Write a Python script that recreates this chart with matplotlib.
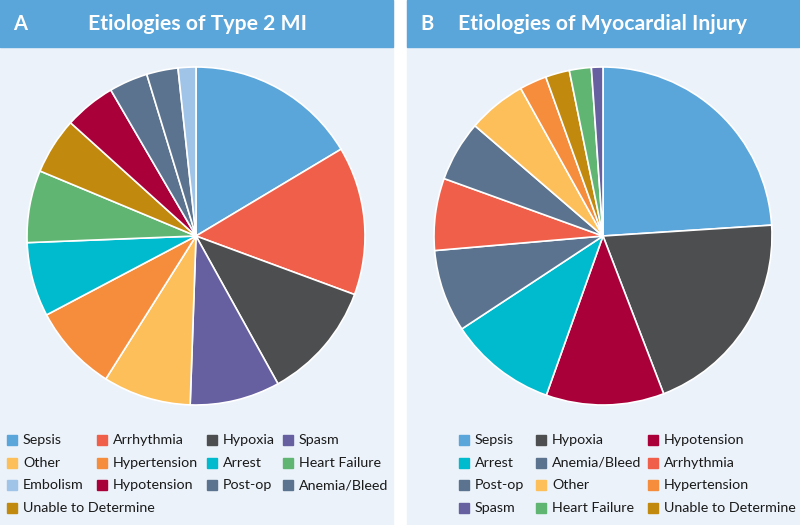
import matplotlib.pyplot as plt
from matplotlib.patches import Rectangle

plt.rcParams['font.family'] = ['Lato', 'DejaVu Sans']

# Panel A: Etiologies of Type 2 MI (percent, clockwise from 12 o'clock)
labels_a = ['Sepsis', 'Arrhythmia', 'Hypoxia', 'Spasm', 'Other', 'Hypertension',
            'Arrest', 'Heart Failure', 'Unable to Determine', 'Hypotension',
            'Post-op', 'Anemia/Bleed', 'Embolism']
values_a = [16.4, 14.2, 11.3, 8.6, 8.4, 8.3, 7.1, 6.9, 5.4, 4.9, 3.7, 3.0, 1.7]
legend_a = ['Sepsis', 'Arrhythmia', 'Hypoxia', 'Spasm',
            'Other', 'Hypertension', 'Arrest', 'Heart Failure',
            'Embolism', 'Hypotension', 'Post-op', 'Anemia/Bleed',
            'Unable to Determine']

# Panel B: Etiologies of Myocardial Injury
labels_b = ['Sepsis', 'Hypoxia', 'Hypotension', 'Arrest', 'Anemia/Bleed',
            'Arrhythmia', 'Post-op', 'Other', 'Hypertension',
            'Unable to Determine', 'Heart Failure', 'Spasm']
values_b = [24.0, 20.2, 11.3, 10.3, 7.9, 6.9, 5.8, 5.6, 2.6, 2.3, 2.1, 1.1]
legend_b = ['Sepsis', 'Hypoxia', 'Hypotension',
            'Arrest', 'Anemia/Bleed', 'Arrhythmia',
            'Post-op', 'Other', 'Hypertension',
            'Spasm', 'Heart Failure', 'Unable to Determine']

colors = {
    'Sepsis': '#5aa5da', 'Arrhythmia': '#f05f4a', 'Hypoxia': '#4d4e50',
    'Spasm': '#665fa0', 'Other': '#fdbf5a', 'Hypertension': '#f58d3d',
    'Arrest': '#00bace', 'Heart Failure': '#61b572', 'Embolism': '#a0c4e8',
    'Hypotension': '#aa003a', 'Post-op': '#5b738e', 'Anemia/Bleed': '#5b738e',
    'Unable to Determine': '#c1890e',
}

W, H = 800, 525
fig = plt.figure(figsize=(8, 5.25), dpi=100)
fig.patch.set_facecolor('white')


def px(x, y, w, h):
    # pixel box (top-left origin) -> figure fraction
    return [x / W, 1 - (y + h) / H, w / W, h / H]


def panel(x0, x1, letter, title, title_x, labels, values, cx, legend, cols):
    fig.patches.append(Rectangle((x0 / W, 0), (x1 - x0) / W, 1,
                                 transform=fig.transFigure, color='#ebf2fa', zorder=-2))
    fig.patches.append(Rectangle((x0 / W, 1 - 47 / H), (x1 - x0) / W, 47 / H,
                                 transform=fig.transFigure, color='#5aa5da', zorder=-1))
    fig.text((x0 + 13) / W, 1 - 24 / H, letter, color='white', fontsize=14.5,
             fontweight='bold', va='center', ha='left')
    fig.text(title_x / W, 1 - 24 / H, title, color='white', fontsize=15.3,
             fontweight='bold', va='center', ha='left')

    r = 169
    ax = fig.add_axes(px(cx - r, 236 - r, 2 * r, 2 * r))
    ax.set_zorder(3)
    wedges, _ = ax.pie(values, colors=[colors[l] for l in labels], startangle=90,
                       counterclock=False, radius=1,
                       wedgeprops=dict(edgecolor='white', linewidth=1.2))
    for w in wedges:
        w.set_clip_on(False)
    ax.set_xlim(-1.0, 1.0)
    ax.set_ylim(-1.0, 1.0)
    ax.set_aspect('equal')
    ax.axis('off')

    ncol = len(cols)
    for i, name in enumerate(legend):
        row, col = divmod(i, ncol)
        y = 440 + row * 22.7
        x = cols[col]
        fig.patches.append(Rectangle((x / W, 1 - (y + 5) / H), 10 / W, 10 / H,
                                     transform=fig.transFigure,
                                     color=colors[name], zorder=2))
        fig.text((x + 16) / W, 1 - y / H, name, color='#1a1a1a', fontsize=10.3,
                 va='center', ha='left')


panel(0, 393, 'A', 'Etiologies of Type 2 MI', 88, labels_a, values_a, 196,
      legend_a, [7, 97, 207, 283])
panel(407, 799, 'B', 'Etiologies of Myocardial Injury', 458, labels_b, values_b, 603,
      legend_b, [459, 536, 648])

fig.savefig('out.png', dpi=100, facecolor='white')
